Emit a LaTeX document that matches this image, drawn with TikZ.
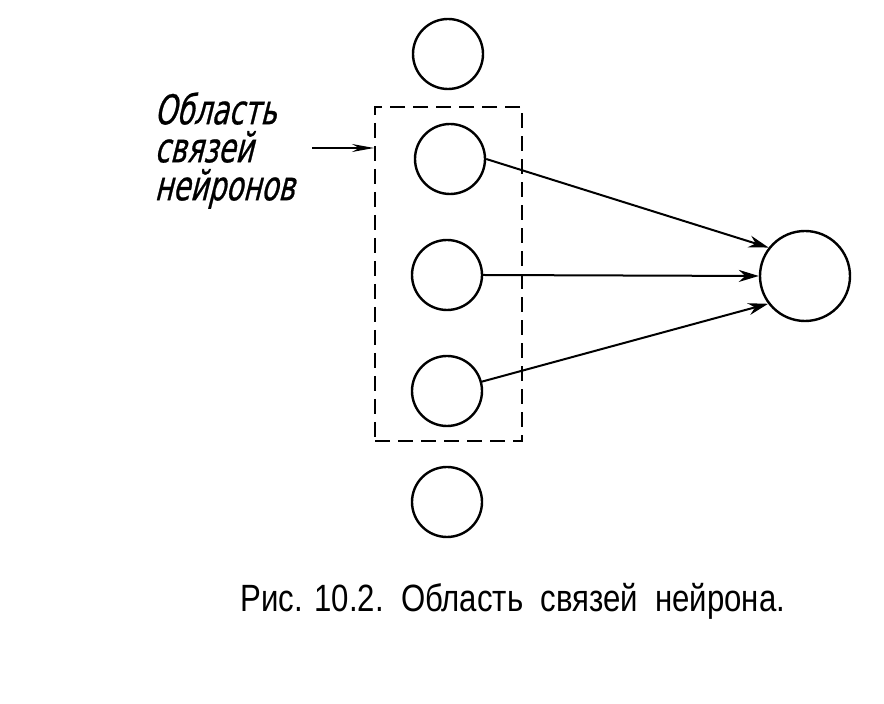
\documentclass[tikz,border=0pt]{standalone}
\usepackage{fontspec}
\usetikzlibrary{arrows.meta}
\newfontfamily\notefont[FakeStretch=0.68,FakeSlant=0.25,FakeBold=0.6]{DejaVu Sans}
\newfontfamily\capfont[FakeStretch=0.82]{Liberation Sans}
\begin{document}
\begin{tikzpicture}[x=0.5pt,y=-0.5pt,
  neuron/.style={draw, circle, line width=1.2pt, minimum size=35pt, inner sep=0pt},
  target/.style={draw, circle, line width=1.2pt, minimum size=45pt, inner sep=0pt},
  link/.style={-{Stealth[length=10pt,width=6pt]}, line width=1pt},
  zonebox/.style={draw, dash pattern=on 7.5pt off 4pt, line width=1pt,
    minimum width=73.5pt, minimum height=167pt, inner sep=0pt}]
  \useasboundingbox (0,0) rectangle (884,704);
  \node[zonebox] (zone) at (448.5,274) {};
  \node[neuron] (n1) at (448,54) {};
  \node[neuron] (n2) at (450,159) {};
  \node[neuron] (n3) at (447,275) {};
  \node[neuron] (n4) at (447,391) {};
  \node[neuron] (n5) at (447,502) {};
  \node[target] (out) at (805,276) {};
  \draw [link] (n2.east) -- (out.142);
  \draw [link] (n3.east) -- (out.west);
  \draw [link] (n4.15) -- (out.217);
  % label
  \node[anchor=north west, inner sep=0pt, align=left,
    font=\notefont\fontsize{20.5}{19}\selectfont] (note) at (154,92)
    {Область\\связей\\нейронов};
  \coordinate (tail) at (312,148);
  \draw [-{Stealth[length=11pt,width=4pt]}, line width=0.6pt] (tail) -- (zone.west |- tail);
  % caption
  \node[anchor=base west, inner sep=0pt, font=\capfont\fontsize{19}{22}\selectfont]
    (caption) at (240,612) {Рис. 10.2.\ \ Область\ \ связей\ \ нейрона.};
\end{tikzpicture}
\end{document}
